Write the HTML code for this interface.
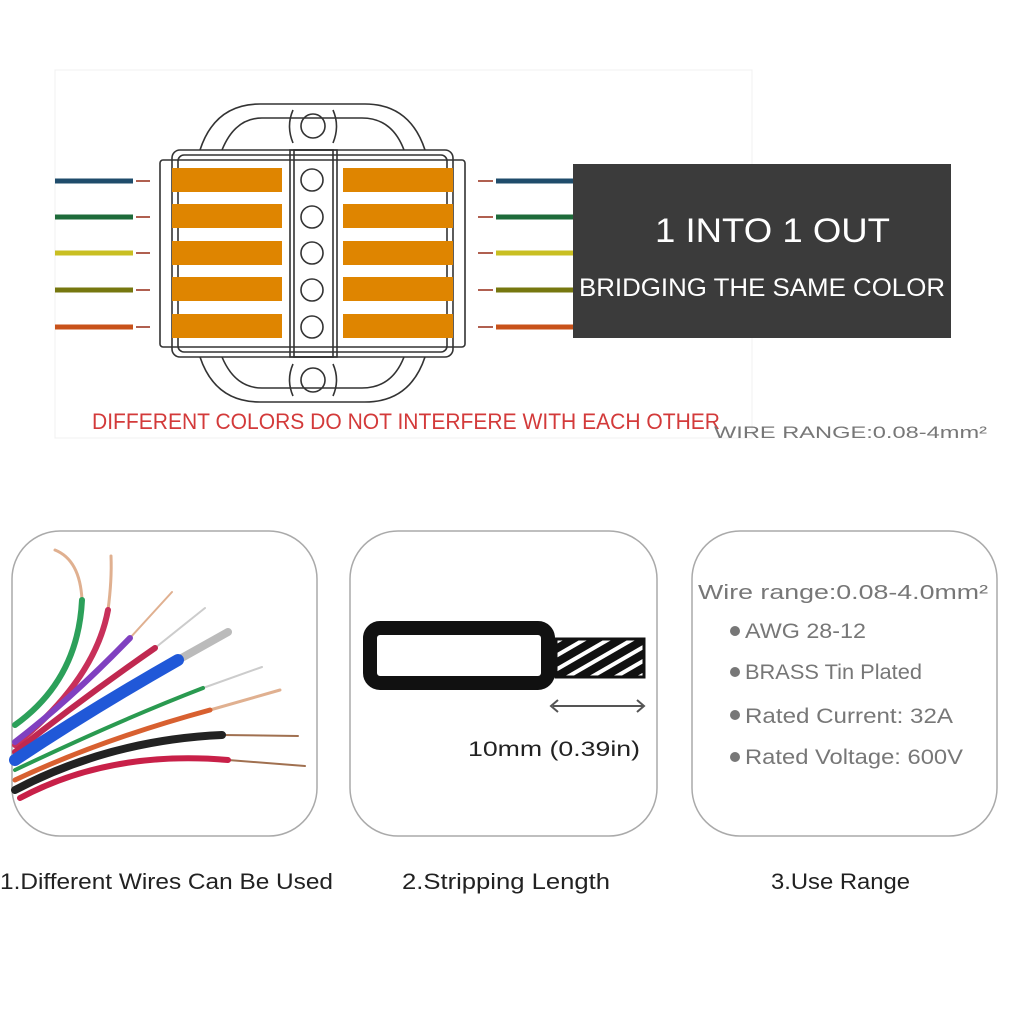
<!DOCTYPE html>
<html><head><meta charset="utf-8"><style>
html,body{margin:0;padding:0;background:#fff;}
svg{display:block;font-family:"Liberation Sans",sans-serif;}
</style></head><body>
<svg width="1024" height="1024" viewBox="0 0 1024 1024" xmlns="http://www.w3.org/2000/svg">
<defs>
<pattern id="hatch" patternUnits="userSpaceOnUse" width="12" height="12" patternTransform="rotate(-30)">
<rect width="12" height="12" fill="#111"/><rect y="4" width="12" height="4" fill="#fff"/>
</pattern>
</defs>
<rect width="1024" height="1024" fill="#fff"/>
<rect x="55" y="70" width="697" height="368" fill="#fff" stroke="#f0f0f0"/>
<g stroke-width="5">
<line x1="55" y1="181" x2="133" y2="181" stroke="#1f4c6b"/>
<line x1="55" y1="217" x2="133" y2="217" stroke="#1e6b3a"/>
<line x1="55" y1="253" x2="133" y2="253" stroke="#c9bf22"/>
<line x1="55" y1="290" x2="133" y2="290" stroke="#76770f"/>
<line x1="55" y1="327" x2="133" y2="327" stroke="#c8521a"/>
<line x1="496" y1="181" x2="573" y2="181" stroke="#1f4c6b"/>
<line x1="496" y1="217" x2="573" y2="217" stroke="#1e6b3a"/>
<line x1="496" y1="253" x2="573" y2="253" stroke="#c9bf22"/>
<line x1="496" y1="290" x2="573" y2="290" stroke="#76770f"/>
<line x1="496" y1="327" x2="573" y2="327" stroke="#c8521a"/>
</g>
<g stroke="#b06050" stroke-width="2">
<line x1="136" y1="181" x2="150" y2="181"/><line x1="136" y1="217" x2="150" y2="217"/><line x1="136" y1="253" x2="150" y2="253"/><line x1="136" y1="290" x2="150" y2="290"/><line x1="136" y1="327" x2="150" y2="327"/>
<line x1="478" y1="181" x2="493" y2="181"/><line x1="478" y1="217" x2="493" y2="217"/><line x1="478" y1="253" x2="493" y2="253"/><line x1="478" y1="290" x2="493" y2="290"/><line x1="478" y1="327" x2="493" y2="327"/>
</g>
<g fill="none" stroke="#333" stroke-width="1.6">
<path d="M200 150 Q215 104 260 104 L365 104 Q410 104 425 150"/>
<path d="M222 150 Q235 118 262 118 L362 118 Q392 118 404 150"/>
<path d="M200 357 Q215 402 260 402 L365 402 Q410 402 425 357"/>
<path d="M222 357 Q235 388 262 388 L362 388 Q392 388 404 357"/>
<circle cx="313" cy="126" r="12"/><path d="M293 110 Q286 126 293 143"/><path d="M333 110 Q340 126 333 143"/>
<circle cx="313" cy="380" r="12"/><path d="M293 364 Q286 380 293 396"/><path d="M333 364 Q340 380 333 396"/>
<rect x="160" y="160" width="305" height="187" rx="3"/>
<rect x="172" y="150" width="281" height="207" rx="8"/>
<rect x="178" y="155" width="269" height="197" rx="6"/>
<rect x="290" y="150" width="47" height="207"/>
<rect x="294" y="150" width="39" height="207"/>
</g>
<g fill="#df8500">
<rect x="172" y="168" width="110" height="24"/><rect x="172" y="204" width="110" height="24"/><rect x="172" y="241" width="110" height="24"/><rect x="172" y="277" width="110" height="24"/><rect x="172" y="314" width="110" height="24"/>
<rect x="343" y="168" width="110" height="24"/><rect x="343" y="204" width="110" height="24"/><rect x="343" y="241" width="110" height="24"/><rect x="343" y="277" width="110" height="24"/><rect x="343" y="314" width="110" height="24"/>
</g>
<g fill="#fff" stroke="#333" stroke-width="1.6">
<circle cx="312" cy="180" r="11"/><circle cx="312" cy="217" r="11"/><circle cx="312" cy="253" r="11"/><circle cx="312" cy="290" r="11"/><circle cx="312" cy="327" r="11"/>
</g>
<text x="92" y="429" font-size="22" fill="#d33a3a" textLength="628" lengthAdjust="spacingAndGlyphs">DIFFERENT COLORS DO NOT INTERFERE WITH EACH OTHER</text>
<text x="714" y="438" font-size="17" fill="#777" textLength="273" lengthAdjust="spacingAndGlyphs">WIRE RANGE:0.08-4mm²</text>
<rect x="573" y="164" width="378" height="174" fill="#3b3b3b"/>
<text x="655" y="242" font-size="34" fill="#fff" textLength="235" lengthAdjust="spacingAndGlyphs">1 INTO 1 OUT</text>
<text x="579" y="296" font-size="25" fill="#fff" textLength="366" lengthAdjust="spacingAndGlyphs">BRIDGING THE SAME COLOR</text>
<g fill="#fff" stroke="#aaa" stroke-width="1.5">
<rect x="12" y="531" width="305" height="305" rx="48"/>
<rect x="350" y="531" width="307" height="305" rx="48"/>
<rect x="692" y="531" width="305" height="305" rx="48"/>
</g>
<g fill="none" stroke-linecap="round">
<path d="M55 550 Q80 560 82 600" stroke="#e0b090" stroke-width="3"/>
<path d="M111 556 Q112 580 108 610" stroke="#e0b090" stroke-width="3"/>
<path d="M82 600 Q78 680 15 725" stroke="#2ca05a" stroke-width="6"/>
<path d="M108 610 Q95 680 15 745" stroke="#c8305a" stroke-width="6"/>
<path d="M130 638 L172 592" stroke="#e0b090" stroke-width="2"/>
<path d="M130 638 Q70 700 15 742" stroke="#8040c0" stroke-width="6"/>
<path d="M155 648 L205 608" stroke="#ccc" stroke-width="2"/>
<path d="M155 648 Q80 700 15 752" stroke="#c02850" stroke-width="6"/>
<path d="M178 660 L228 632" stroke="#bbb" stroke-width="8"/>
<path d="M178 660 Q90 710 15 760" stroke="#2058d8" stroke-width="12"/>
<path d="M203 688 L262 667" stroke="#ccc" stroke-width="2"/>
<path d="M203 688 Q120 720 15 770" stroke="#2a9a50" stroke-width="4"/>
<path d="M210 710 L280 690" stroke="#e0b090" stroke-width="3"/>
<path d="M210 710 Q100 740 15 780" stroke="#d86030" stroke-width="5"/>
<path d="M222 735 L298 736" stroke="#a07050" stroke-width="2"/>
<path d="M222 735 Q110 740 15 790" stroke="#222" stroke-width="8"/>
<path d="M228 760 L305 766" stroke="#a07050" stroke-width="2"/>
<path d="M228 760 Q110 750 20 798" stroke="#c82048" stroke-width="6"/>
</g>
<rect x="370" y="628" width="178" height="55" rx="10" fill="#fff" stroke="#111" stroke-width="14"/>
<rect x="556" y="639" width="88" height="38" fill="url(#hatch)" stroke="#111" stroke-width="3"/>
<line x1="553" y1="706" x2="643" y2="706" stroke="#555" stroke-width="2"/>
<path d="M558 700 L551 706 L558 712 M637 700 L644 706 L637 712" fill="none" stroke="#555" stroke-width="2"/>
<text x="468" y="756" font-size="21" fill="#222" textLength="172" lengthAdjust="spacingAndGlyphs">10mm  (0.39in)</text>
<text x="698" y="599" font-size="20" fill="#777" textLength="290" lengthAdjust="spacingAndGlyphs">Wire range:0.08-4.0mm²</text>
<g fill="#777"><circle cx="735" cy="631" r="5"/><circle cx="735" cy="672" r="5"/><circle cx="735" cy="715" r="5"/><circle cx="735" cy="757" r="5"/></g>
<g font-size="21" fill="#777" lengthAdjust="spacingAndGlyphs">
<text x="745" y="638" textLength="121" lengthAdjust="spacingAndGlyphs">AWG 28-12</text>
<text x="745" y="679" textLength="177" lengthAdjust="spacingAndGlyphs">BRASS Tin Plated</text>
<text x="745" y="723" textLength="208" lengthAdjust="spacingAndGlyphs">Rated Current:  32A</text>
<text x="745" y="764" textLength="218" lengthAdjust="spacingAndGlyphs">Rated Voltage: 600V</text>
</g>
<g font-size="22" fill="#222">
<text x="0" y="889" textLength="333" lengthAdjust="spacingAndGlyphs">1.Different Wires Can Be Used</text>
<text x="402" y="889" textLength="208" lengthAdjust="spacingAndGlyphs">2.Stripping Length</text>
<text x="771" y="889" textLength="139" lengthAdjust="spacingAndGlyphs">3.Use Range</text>
</g>
</svg>
</body></html>
